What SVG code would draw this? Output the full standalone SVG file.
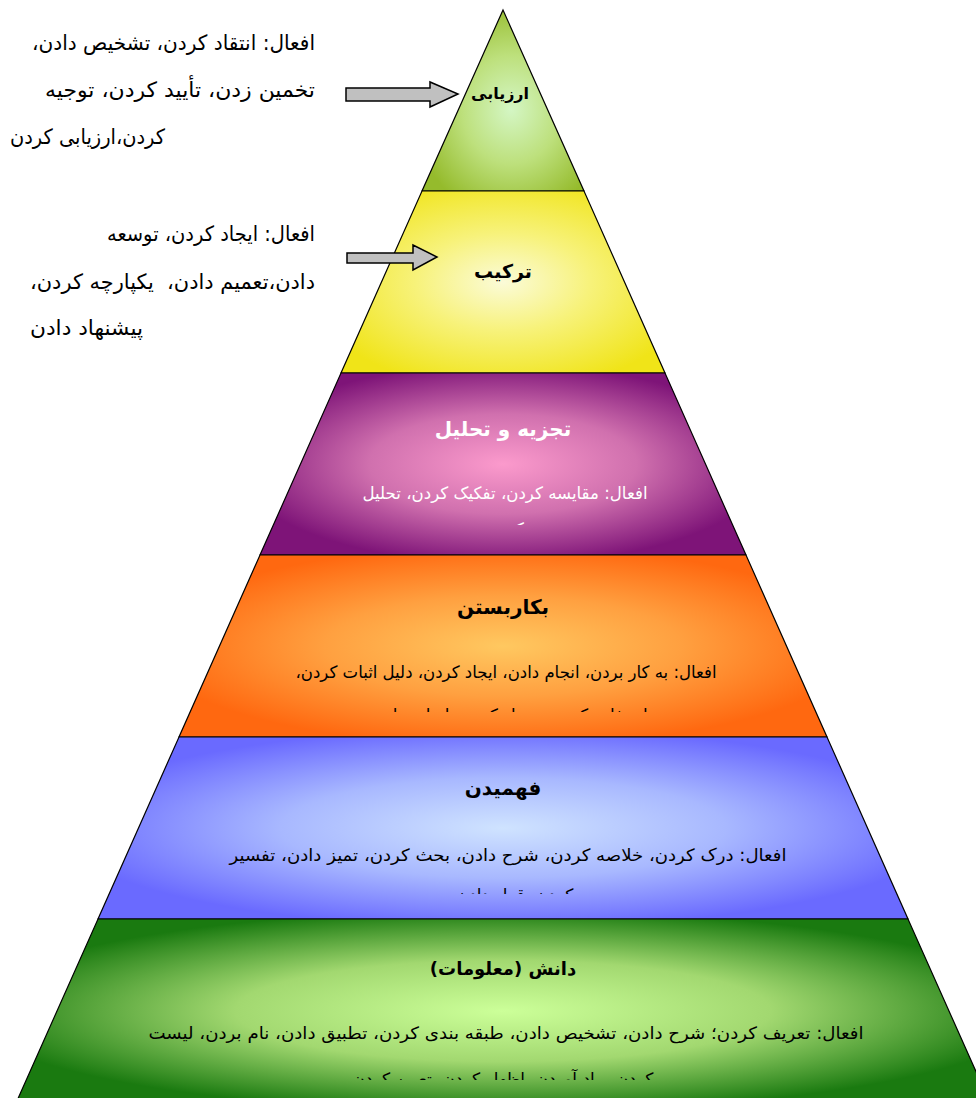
<svg xmlns="http://www.w3.org/2000/svg" width="976" height="1098" viewBox="0 0 976 1098">
<style>
text{font-family:"DejaVu Sans","Noto Sans",sans-serif;}
.side{font-size:21px;fill:#000;}
.title{font-size:20px;font-weight:bold;fill:#000;text-anchor:middle;}
.body{font-size:17px;fill:#000;text-anchor:middle;}
.wt{fill:#fff;}
.layer{stroke:#000;stroke-width:1.2;}
.arrow{fill:#c0c0c0;stroke:#000;stroke-width:1.5;stroke-linejoin:miter;}
</style>
<defs>
<radialGradient id="gTop" cx="0.55" cy="0.55" r="0.6">
<stop offset="0" stop-color="#d4f6c4"/><stop offset="0.5" stop-color="#bde07c"/><stop offset="1" stop-color="#95bb2c"/>
</radialGradient>
<radialGradient id="gYel" cx="0.5" cy="0.5" r="0.6">
<stop offset="0" stop-color="#fbfbd8"/><stop offset="0.45" stop-color="#f7f27a"/><stop offset="1" stop-color="#f0e418"/>
</radialGradient>
<radialGradient id="gPur" cx="0.5" cy="0.5" r="0.55">
<stop offset="0" stop-color="#fb9acc"/><stop offset="0.5" stop-color="#d070ae"/><stop offset="1" stop-color="#7e1478"/>
</radialGradient>
<radialGradient id="gOra" cx="0.5" cy="0.5" r="0.55">
<stop offset="0" stop-color="#ffc860"/><stop offset="0.5" stop-color="#ffa040"/><stop offset="1" stop-color="#ff6810"/>
</radialGradient>
<radialGradient id="gBlu" cx="0.5" cy="0.5" r="0.55">
<stop offset="0" stop-color="#cfe3ff"/><stop offset="0.5" stop-color="#a8b8ff"/><stop offset="1" stop-color="#6a6aff"/>
</radialGradient>
<radialGradient id="gGrn" cx="0.5" cy="0.5" r="0.55">
<stop offset="0" stop-color="#ccff99"/><stop offset="0.5" stop-color="#a2d870"/><stop offset="1" stop-color="#1a7a10"/>
</radialGradient>
<clipPath id="cPur"><rect x="250" y="470" width="500" height="55"/></clipPath>
<clipPath id="cOra"><rect x="170" y="650" width="660" height="62"/></clipPath>
<clipPath id="cBlu"><rect x="90" y="832" width="820" height="62"/></clipPath>
<clipPath id="cGrn"><rect x="0" y="1010" width="976" height="70"/></clipPath>
</defs>

<g id="layer-evaluation">
<polygon class="layer" fill="url(#gTop)" points="503,10 584,191 422,191"/>
<text class="title" x="500" y="99" direction="rtl" style="font-size:16px">ارزیابی</text>
</g>

<g id="layer-synthesis">
<polygon class="layer" fill="url(#gYel)" points="422,191 584,191 665,373 341,373"/>
<text class="title" x="503" y="278" direction="rtl" style="font-size:19px">ترکیب</text>
</g>

<g id="layer-analysis">
<polygon class="layer" fill="url(#gPur)" points="341,373 665,373 746,555 260,555"/>
<text class="title wt" x="503" y="436" direction="rtl" style="font-size:20px">تجزیه و تحلیل</text>
<g clip-path="url(#cPur)">
<text class="body wt" x="505" y="499" direction="rtl" textLength="285" lengthAdjust="spacingAndGlyphs">افعال: مقایسه کردن، تفکیک کردن، تحلیل</text>
<text class="body wt" x="505" y="535" direction="rtl">کردن</text>
</g>
</g>

<g id="layer-application">
<polygon class="layer" fill="url(#gOra)" points="260,555 746,555 827,737 179,737"/>
<text class="title" x="503" y="614" direction="rtl">بکاربستن</text>
<g clip-path="url(#cOra)">
<text class="body" x="506" y="678" direction="rtl" textLength="421" lengthAdjust="spacingAndGlyphs">افعال: به کار بردن، انجام دادن، ایجاد کردن، دلیل اثبات کردن،</text>
<text class="body" x="506" y="721" direction="rtl">استفاده کردن، تبدیل کردن، ابزار ساختن</text>
</g>
</g>

<g id="layer-comprehension">
<polygon class="layer" fill="url(#gBlu)" points="179,737 827,737 908,919 98,919"/>
<text class="title" x="503" y="795" direction="rtl">فهمیدن</text>
<g clip-path="url(#cBlu)">
<text class="body" x="508" y="861" direction="rtl" textLength="557" lengthAdjust="spacingAndGlyphs">افعال: درک کردن، خلاصه کردن، شرح دادن، بحث کردن، تمیز دادن، تفسیر</text>
<text class="body" x="515" y="901" direction="rtl">کردن، قرار دادن</text>
</g>
</g>

<g id="layer-knowledge">
<polygon class="layer" fill="url(#gGrn)" points="98,919 908,919 990,1103 16,1103"/>
<text class="title" x="503" y="975" direction="rtl" style="font-size:18px">دانش (معلومات)</text>
<g clip-path="url(#cGrn)">
<text class="body" x="506" y="1039" direction="rtl" textLength="715" lengthAdjust="spacingAndGlyphs">افعال: تعریف کردن؛ شرح دادن، تشخیص دادن، طبقه بندی کردن، تطبیق دادن، نام بردن، لیست</text>
<text class="body" x="503" y="1085" direction="rtl">کردن، بیاد آوردن، اظهار کردن، تعیین کردن</text>
</g>
</g>

<g id="label-evaluation">
<text class="side" x="315" y="50" direction="rtl" textLength="283" lengthAdjust="spacingAndGlyphs">افعال: انتقاد کردن، تشخیص دادن،</text>
<text class="side" x="315" y="97" direction="rtl" textLength="270" lengthAdjust="spacingAndGlyphs">تخمین زدن، تأیید کردن، توجیه</text>
<text class="side" x="165" y="144" direction="rtl" textLength="155" lengthAdjust="spacingAndGlyphs">کردن،ارزیابی کردن</text>
</g>

<g id="label-synthesis">
<text class="side" x="315" y="241" direction="rtl" textLength="208" lengthAdjust="spacingAndGlyphs">افعال: ایجاد کردن، توسعه</text>
<text class="side" x="315" y="289" direction="rtl" xml:space="preserve" textLength="285" lengthAdjust="spacingAndGlyphs">دادن،تعمیم دادن،  یکپارچه کردن،</text>
<text class="side" x="143" y="335" direction="rtl" textLength="113" lengthAdjust="spacingAndGlyphs">پیشنهاد دادن</text>
</g>

<g id="connectors">
<polygon class="arrow" points="346,88 430,88 430,82 458,94 430,107 430,101 346,101"/>
<polygon class="arrow" points="347,253 413,253 413,245 437,257 413,270 413,263 347,263"/>
</g>
</svg>
